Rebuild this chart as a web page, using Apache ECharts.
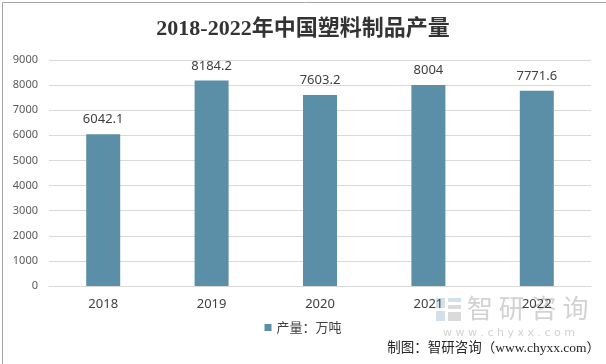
<!DOCTYPE html>
<html>
<head>
<meta charset="utf-8">
<script src="https://cdn.jsdelivr.net/npm/echarts@6/dist/echarts.min.js"></script>
<style>
html,body{margin:0;padding:0;background:#fff;}
#c{width:606px;height:364px;}
</style>
</head>
<body>
<div id="c"></div>
<script>
const titleText = '2018-2022年中国塑料制品产量';
const categories = ['2018', '2019', '2020', '2021', '2022'];
const seriesName = '产量：万吨';
const values = [6042.1, 8184.2, 7603.2, 8004, 7771.6];
const yTicks = [0, 1000, 2000, 3000, 4000, 5000, 6000, 7000, 8000, 9000];
const sourceText = '制图：智研咨询（www.chyxx.com）';

const chart = echarts.init(document.getElementById('c'), null, {renderer: 'canvas'});
chart.setOption({
  backgroundColor: '#ffffff',
  animation: false,
  title: {
    text: titleText,
    left: 'center',
    top: 13,
    textStyle: {
      fontFamily: '"Liberation Serif", "Noto Sans CJK SC", serif',
      fontSize: 22,
      fontWeight: 'bold',
      color: '#333333'
    }
  },
  grid: {left: 49, right: 15, top: 60, bottom: 78},
  legend: {
    data: [seriesName],
    bottom: 25,
    left: 'center',
    itemWidth: 7,
    itemHeight: 7,
    itemGap: 3,
    icon: 'rect',
    textStyle: {fontFamily: '"Noto Sans CJK SC", sans-serif', fontSize: 13, color: '#404040'}
  },
  xAxis: {
    type: 'category',
    data: categories,
    z: 10,
    axisTick: {show: false},
    axisLine: {lineStyle: {color: '#d9d9d9'}},
    axisLabel: {fontFamily: '"Noto Sans", sans-serif', fontSize: 13, color: '#404040', margin: 12}
  },
  yAxis: {
    type: 'value',
    min: yTicks[0],
    max: yTicks[yTicks.length - 1],
    interval: yTicks[1] - yTicks[0],
    axisLine: {show: false},
    axisTick: {show: false},
    splitLine: {lineStyle: {color: '#d9d9d9'}},
    axisLabel: {fontFamily: '"Noto Sans", sans-serif', fontSize: 11, color: '#595959', margin: 11,
      formatter: function (v) { return String(v); }}
  },
  series: [{
    name: seriesName,
    type: 'bar',
    data: values,
    barWidth: 34,
    itemStyle: {color: '#5b8fa8'},
    label: {
      show: true,
      position: 'top',
      distance: 8,
      fontFamily: '"Noto Sans", sans-serif',
      fontSize: 13,
      color: '#404040'
    }
  }],
  graphic: [
    {type: 'rect', left: 0, top: 0, z: 100, silent: true,
     shape: {x: 0.5, y: 0.5, width: 605, height: 363},
     style: {fill: 'none', stroke: '#a6a6a6', lineWidth: 1}},
    {type: 'rect', z: -1, silent: true, shape: {x: 436, y: 298, width: 9, height: 10}, style: {fill: '#d3e0ea'}},
    {type: 'rect', z: -1, silent: true, shape: {x: 448, y: 298, width: 13, height: 4}, style: {fill: '#d3e0ea'}},
    {type: 'rect', z: -1, silent: true, shape: {x: 448, y: 305, width: 13, height: 4}, style: {fill: '#dadada'}},
    {type: 'rect', z: -1, silent: true, shape: {x: 436, y: 311, width: 9, height: 10}, style: {fill: '#d3e0ea'}},
    {type: 'rect', z: -1, silent: true, shape: {x: 448, y: 312, width: 13, height: 9}, style: {fill: '#dadada'}},
    {type: 'text', z: -1, silent: true, left: 467, top: 295,
     style: {text: '智 研 咨 询', fontFamily: '"Noto Sans CJK SC", sans-serif', fontSize: 26, fill: '#d2d2d2'}},
    {type: 'text', z: -1, silent: true, left: 443, top: 328,
     style: {text: 'w w w . c h y x x . c o m', fontFamily: '"DejaVu Sans", sans-serif', fontSize: 11, fill: '#d2d2d2'}},
    {type: 'text', z: 60, silent: true, right: 6, top: 342,
     style: {text: sourceText, fontFamily: '"Liberation Serif", "Noto Sans CJK SC", serif', fontSize: 13.5, fill: '#262626'}}
  ]
});
</script>
</body>
</html>
